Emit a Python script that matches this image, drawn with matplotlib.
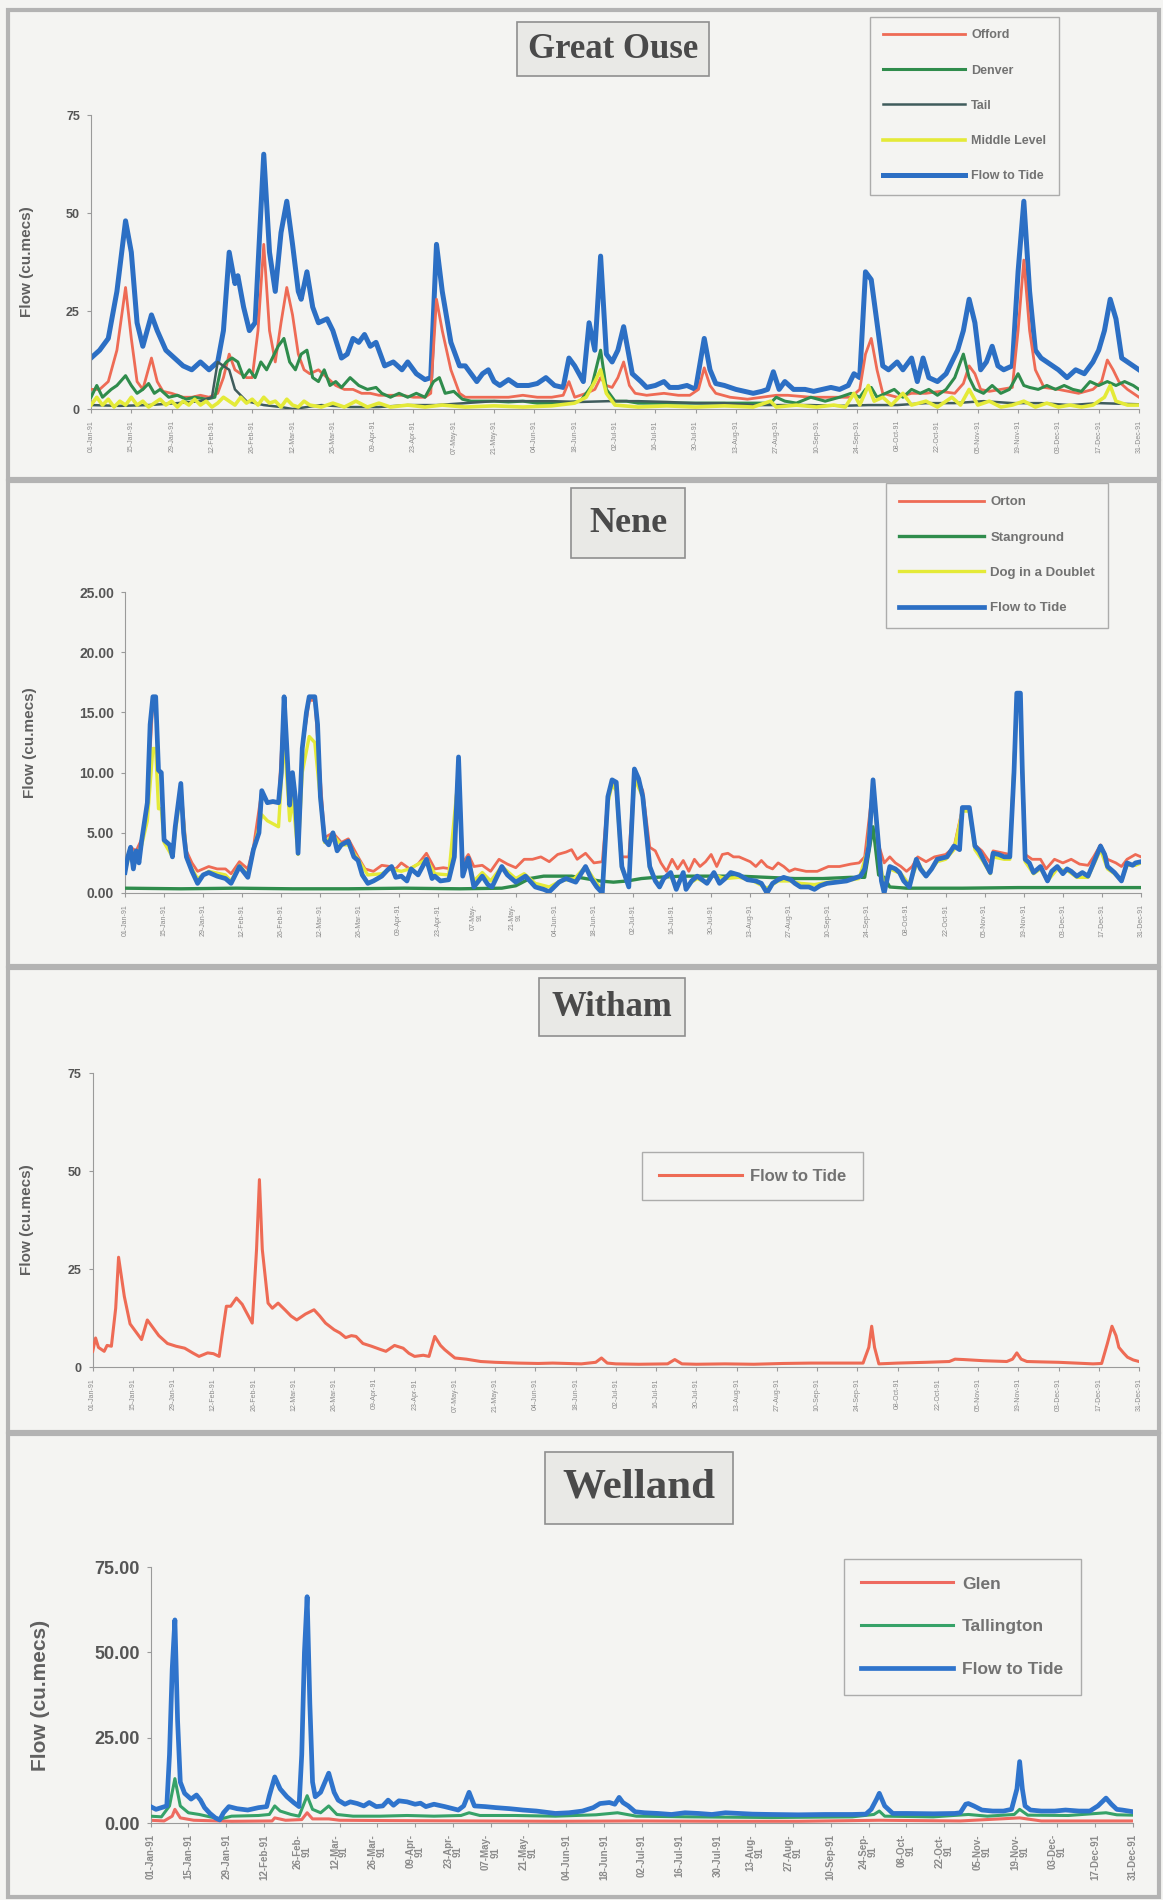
import matplotlib
matplotlib.use("Agg")
import matplotlib.pyplot as plt
from matplotlib.patches import Rectangle

plt.rcParams['font.family'] = ['Liberation Sans', 'DejaVu Sans']

# ---- tick dates (every 14 days through 1991) ----
tick_days = list(range(0, 365, 14))
tick_labels = ['01-Jan-91', '15-Jan-91', '29-Jan-91', '12-Feb-91', '26-Feb-91', '12-Mar-91',
               '26-Mar-91', '09-Apr-91', '23-Apr-91', '07-May-91', '21-May-91', '04-Jun-91',
               '18-Jun-91', '02-Jul-91', '16-Jul-91', '30-Jul-91', '13-Aug-91', '27-Aug-91',
               '10-Sep-91', '24-Sep-91', '08-Oct-91', '22-Oct-91', '05-Nov-91', '19-Nov-91',
               '03-Dec-91', '17-Dec-91', '31-Dec-91']
nene_labels = [t if t not in ('07-May-91', '21-May-91') else t[:7] + '\n91' for t in tick_labels]
welland_wrap = {'26-Feb-91', '12-Mar-91', '26-Mar-91', '09-Apr-91', '23-Apr-91', '07-May-91',
                '21-May-91', '13-Aug-91', '27-Aug-91', '24-Sep-91', '08-Oct-91', '22-Oct-91',
                '05-Nov-91', '19-Nov-91', '03-Dec-91'}
welland_labels = [t[:7] + '\n91' if t in welland_wrap else t for t in tick_labels]

# ---- Great Ouse (day of year, cumecs) ----
ouse_offord = [(0,5),(3,5),(6,7),(9,15),(12,31),(14,18),(16,7),(18,5),(21,13),(23,7),(25,4.5),(28,4),
    (32,3),(35,3),(38,3.5),(41,3),(44,4),(46,8),(48,14),(50,10),(52,9),(54,8),(56,8),(58,20),(60,42),
    (62,20),(64,12),(66,22),(68,31),(70,24),(72,14),(74,10),(76,9),(79,10),(82,8),(85,6),(88,5),(91,5),
    (94,4),(97,4),(100,3.5),(104,3.5),(108,3.5),(112,3),(116,3),(118,4),(120,28),(122,20),(125,10),
    (128,4),(130,3),(135,3),(140,3),(145,3),(150,3.5),(155,3),(160,3),(164,3.5),(166,7),(168,3),(172,4),
    (175,5),(177,8),(179,6),(181,5.5),(183,8),(185,12),(187,6),(189,4),(193,3.5),(199,4),(204,3.5),
    (208,3.5),(211,5),(213,10.5),(215,6),(217,4),(222,3),(228,2.5),(233,3),(238,3.5),(242,3.5),(250,3),
    (258,3),(264,3),(267,5),(269,14),(271,18),(273,10),(275,4),(280,3),(285,4),(290,4),(295,4.5),
    (300,4),(303,6.5),(305,11),(307,9),(309,5),(312,4.5),(316,5),(320,5.5),(322,20),(324,38),(326,20),
    (328,10),(331,5.5),(336,5),(343,4),(348,5),(351,7),(353,12.5),(355,10),(357,7),(360,5),(364,3)]
ouse_denver = [(0,3),(2,6),(4,3),(7,5),(9,6),(12,8.5),(14,6),(16,4),(18,5),(20,6.5),(22,4),(24,5),(27,3),
    (30,3.5),(33,2.5),(36,3),(40,2.5),(43,3),(45,10),(47,12),(49,13),(51,12),(53,8),(55,10),(57,8),
    (59,12),(61,10),(63,13),(65,16),(67,18),(69,12),(71,10),(73,14),(75,15),(77,8),(79,7),(81,10),
    (83,6),(85,7),(87,5.5),(90,8),(93,6),(96,5),(99,5.5),(101,4),(104,3),(107,4),(110,3),(113,4),
    (116,3),(119,7),(121,8),(123,4),(126,4.5),(129,2.5),(132,2),(136,2),(140,2),(145,1.8),(150,2),
    (155,1.5),(160,1.5),(165,1.5),(170,2),(174,6),(177,15),(179,5),(182,2),(186,2),(190,1.5),(200,1.5),
    (210,1.5),(220,1.5),(230,1.5),(236,1.5),(238,3),(241,2),(245,1.5),(250,3),(255,2),(260,3),(264,4),
    (267,3),(269,5),(271,5.5),(273,3),(276,4),(279,5),(282,3),(285,5),(288,4),(291,5),(294,3.5),(297,5),
    (300,8),(302,12),(303,14),(305,8),(307,5),(310,4),(313,6),(316,4),(319,5),(322,9),(324,6),(326,5.5),
    (329,5),(332,6),(335,5),(338,6),(341,5),(344,4.5),(347,7),(350,6),(353,7),(356,6),(359,7),(362,6),
    (364,5)]
ouse_tail = [(0,1),(10,0.8),(20,1),(30,1.5),(38,2),(42,3),(44,12),(46,11),(48,10),(50,5),(54,2),(60,1),
    (66,0.5),(70,0),(75,0.5),(80,1),(90,0.5),(100,0.5),(110,1),(120,1),(130,1.5),(140,2),(150,2),(160,2),
    (170,1.8),(180,2),(190,2),(200,1.8),(210,1.5),(220,1.5),(230,1),(240,1),(250,1),(260,0.8),(270,1),
    (280,1),(290,1.5),(300,1.5),(310,2),(320,1.5),(330,1.5),(340,1),(350,1.5),(364,1.2)]
ouse_middle = [(0,1),(2,3),(4,1),(6,2.5),(8,0.5),(10,2),(12,1),(14,3),(16,1),(18,2),(20,0.5),(22,1.5),
    (24,2.5),(26,1),(28,2),(30,0.5),(32,2),(34,1),(36,2.5),(38,1),(40,2),(42,0.5),(44,1.5),(46,3),(48,2),
    (50,1),(52,3),(54,1.5),(56,2.5),(58,1),(60,3),(62,1.5),(64,2),(66,0.5),(68,2.5),(70,1),(72,0.5),
    (74,2),(76,1),(80,0.5),(84,1.5),(88,0.5),(92,2),(96,0.5),(100,1.5),(104,0.5),(110,1),(116,0.5),
    (122,1),(130,0.5),(140,0.8),(150,0.5),(160,0.8),(168,1.5),(172,3),(175,7),(177,10),(179,4),(182,1),
    (190,0.5),(200,0.8),(210,0.5),(220,0.8),(230,0.5),(236,2),(238,0.5),(245,1),(252,0.5),(258,1),
    (262,0.5),(265,4),(267,1),(270,6),(272,2),(275,3),(278,1),(282,4),(285,1),(290,2),(294,0.5),(299,3),
    (302,1),(305,5),(308,1),(312,2),(316,0.5),(320,1),(324,2),(328,0.5),(332,1.5),(336,0.5),(340,1),
    (344,0.5),(348,1),(352,3),(354,6),(356,2),(360,1),(364,1)]
ouse_tide = [(0,13),(3,15),(6,18),(9,30),(12,48),(14,40),(16,22),(18,16),(21,24),(23,20),(26,15),(29,13),
    (32,11),(35,10),(38,12),(41,10),(44,12),(46,20),(48,40),(50,32),(51,34),(53,26),(55,20),(57,22),
    (60,65),(62,40),(64,30),(66,45),(68,53),(70,42),(72,30),(73,28),(75,35),(77,26),(79,22),(82,23),
    (84,20),(87,13),(89,14),(91,18),(93,17),(95,19),(97,16),(99,17),(102,11),(105,12),(108,10),(110,12),
    (113,9),(116,7.5),(118,8),(120,42),(122,30),(125,17),(128,11),(130,11),(134,7),(136,9),(138,10),
    (140,7),(142,6),(145,7.5),(148,6),(152,6),(155,6.5),(158,8),(161,6),(164,5.5),(166,13),(168,11),
    (171,7),(173,22),(175,15),(177,39),(179,14),(181,12),(183,15),(185,21),(188,9),(191,7),(193,5.5),
    (196,6),(199,7),(201,5.5),(204,5.5),(207,6),(210,5),(213,18),(215,10),(217,6.5),(220,6),(224,5),
    (227,4.5),(230,4),(233,4.5),(235,5),(237,9.5),(239,5),(241,7),(244,5),(248,5),(251,4.5),(254,5),
    (257,5.5),(260,5),(263,6),(265,9),(267,8),(269,35),(271,33),(273,22),(275,11),(277,10),(280,12),
    (282,10),(285,13),(287,7),(289,13),(291,8),(294,7),(297,9),(299,12),(301,15),(303,20),(305,28),
    (307,22),(309,10),(311,12),(313,16),(315,11),(317,10),(320,11),(322,35),(324,53),(326,30),(328,15),
    (330,13),(332,12),(334,11),(336,10),(339,8),(342,10),(345,9),(348,12),(350,15),(352,20),(354,28),
    (356,23),(358,13),(360,12),(362,11),(364,10)]

# ---- Nene ----
nene_orton = [(0,2),(2,3.8),(4,3.5),(6,4.5),(8,7.5),(10,16),(11,16),(12,10),(13,10),(14,4.6),(17,3.3),
    (18,5.5),(20,9),(22,3.5),(24,2.5),(26,1.8),(28,2),(30,2.2),(33,2),(36,2),(38,1.6),(41,2.6),(44,2),
    (46,3.8),(49,8.5),(51,7.5),(55,7.5),(57,16),(59,7.3),(60,10),(62,3.5),(63.5,12),(66,16),(68,16),
    (71.5,4.6),(74.5,5),(77.5,4.2),(80,4.5),(83.5,3),(86,2),(89,1.8),(92,2.3),(95,2.2),(97,2),(99,2.5),
    (102,2),(105,2.4),(108,3.3),(111,2),(114,2.1),(117,2),(119.5,11),(121,2.5),(123,3.2),(125,2.2),
    (128,2.3),(131,1.8),(134,2.8),(137,2.4),(140,2.1),(143,2.8),(146,2.8),(149,3),(152,2.6),(155,3.2),
    (158,3.4),(160,3.6),(162,2.8),(165,3.3),(168,2.5),(171,2.6),(173,8),(174.5,9.2),(176,9),(178,3),
    (180.5,3),(182.5,10),(185.5,8.5),(188,3.8),(190,3.5),(192,2.5),(194,1.8),(196,2.8),(198,2),(200,2.7),
    (202,1.8),(204,2.8),(206,2.2),(208,2.6),(210,3.2),(212,2.2),(214,3.2),(216,3.3),(218,3),(220,3),
    (222,2.8),(224,2.6),(226,2.2),(228,2.7),(230,2.2),(232,2),(234,2.5),(236,2.2),(238,1.8),(240,2),
    (244,1.8),(248,1.8),(252,2.2),(256,2.2),(260,2.4),(263,2.5),(265,3),(268,9),(270,4),(272,2.5),(274,3),
    (276,2.5),(278,2.2),(280,1.8),(282,2.2),(284,3),(287,2.6),(290,3),(294,3.2),(297,3.8),(300,7),
    (302.5,7),(304.5,4),(307,3.5),(310,2.5),(311,3.5),(315,3.3),(317,3.2),(319.5,16.3),(320.8,16.3),
    (322.5,3.2),(325,2.8),(328,2.8),(330,2),(333,2.8),(336,2.5),(339,2.8),(342,2.4),(345,2.3),(347,3),
    (349.5,4),(352,2.8),(355,2.5),(357,2.2),(359,2.8),(362,3.2),(364,3)]
nene_stanground = [(0,0.4),(20,0.35),(40,0.4),(60,0.35),(80,0.35),(100,0.4),(120,0.35),(135,0.4),
    (140,0.6),(145,1.2),(150,1.4),(160,1.4),(170,1.0),(175,0.9),(180,1.0),(185,1.2),(190,1.3),(200,1.4),
    (210,1.4),(220,1.4),(230,1.3),(240,1.2),(250,1.2),(260,1.3),(265,1.3),(268,5.5),(270,1.5),(272,1.3),
    (274,0.5),(280,0.4),(300,0.4),(320,0.45),(340,0.45),(364,0.45)]
nene_dog = [(0,1.8),(2,3.5),(4,3),(6,4),(8,6),(10,12),(11,12),(12,7),(13,7),(14,4.2),(17,3),(18,5),
    (20,8.5),(22,3),(24,2),(26,1.2),(30,1.8),(36,1.5),(38,1),(41,2.3),(44,1.5),(46,3.5),(49,6.5),(51,6),
    (55,5.5),(57,13),(59,6),(60,8),(62,3.2),(63.5,10),(66,13),(68,12.5),(71.5,4.2),(74.5,4.8),(77.5,4),
    (80,4),(83.5,2.8),(87,1.5),(92,1.6),(95,2),(99,1.8),(102,2),(108,2.8),(111,1.6),(116,1.5),(119.5,10),
    (121,1.6),(123,2.8),(125,1),(128,1.7),(131,1),(135,2.2),(140,1.2),(143,1.6),(147,0.8),(152,0.5),
    (156,1),(161,1.2),(165,2.2),(169,0.8),(171,0.3),(173,7.5),(174.5,9),(176,8.5),(178,2),(180.5,0.8),
    (182.5,9.5),(185.5,8),(188,2),(191,0.7),(195,1.6),(197.5,0.5),(200,1.5),(201,0.6),(205,1.2),(208,0.9),
    (211,1.5),(215,1.2),(220,1.3),(225,1.0),(230,0.4),(234,1.0),(238,1.0),(242,0.8),(247,0.7),(252,0.9),
    (258,1.0),(263,1.2),(266,3.5),(268,8.8),(270,3.5),(272,0.4),(274,2),(278,1.6),(281,0.7),(284,2.6),
    (287,1.4),(291,2.6),(294,2.8),(297,3.6),(300,6.8),(302.5,6.8),(304.5,3.6),(307.5,2.6),(310,1.6),
    (311,3),(315,2.8),(317,2.8),(319.5,16),(320.8,16),(322.5,2.6),(325.5,1.6),(328,2),(330.5,1),(334,2),
    (338,1.8),(341,1.3),(345,1.3),(349.5,3.6),(352,2),(354.5,1.6),(357,1),(359,2.3),(362,2.3),(364,2.5)]
nene_tide = [(0,1.7),(1,3),(2,3.8),(3,2),(4,3.5),(5,2.5),(6,4.4),(8,7.5),(9,14),(10,16.3),(11,16.3),
    (12,10.2),(13,10),(14,4.4),(16,4),(17,3),(18,5.5),(20,9.1),(21,5),(22,3),(24,1.8),(26,0.8),(28,1.5),
    (30,1.7),(33,1.4),(36,1.2),(38,0.8),(41,2.2),(44,1.3),(46,3.6),(48,5),(49,8.5),(51,7.5),(53,7.6),
    (55,7.5),(56,10),(57,16.3),(58,12),(59,7.3),(60,10),(61,8),(62,3.3),(63.5,12),(65,15),(66,16.3),
    (68,16.3),(69,14),(70,8),(71.5,4.4),(73,4),(74.5,5),(76,3.5),(77.5,4),(80,4.3),(82,3),(83.5,2.7),
    (85,1.5),(87,0.8),(89,1),(92,1.4),(94,1.9),(95.5,2.2),(97,1.3),(99,1.4),(101,1),(102.5,2),(105,1.5),
    (108,2.8),(110,1.2),(111,1.4),(113,1),(116,1.1),(118,3),(119.5,11.3),(121,1.4),(123,2.9),(125,0.5),
    (128,1.4),(130,0.7),(131.5,0.5),(135,2.2),(137,1.5),(140,0.9),(143.5,1.4),(147,0.5),(150,0.3),
    (152,0.1),(155.5,0.9),(158,1.2),(161.5,0.9),(165,2.2),(167,1.2),(169,0.5),(171,0),(173,8),(174.5,9.4),
    (176,9.2),(178,2.2),(180.5,0.5),(182.5,10.3),(184,9.5),(185.5,8),(188,2.2),(190,1),(191.5,0.5),
    (193,1.2),(195.5,1.7),(197.5,0.3),(200,1.7),(201,0.3),(203,1),(205,1.4),(208.5,0.8),(211,1.7),
    (213,0.8),(215,1.2),(217,1.7),(220,1.5),(223,1.1),(226,1),(228,0.8),(230,0),(232,0.8),(234,1.1),
    (236,1.3),(238.5,1.1),(240,0.8),(242,0.5),(245,0.5),(247,0.3),(249,0.6),(251.5,0.8),(255,0.9),
    (258.5,1),(261,1.2),(263.5,1.4),(265,2),(266.5,3.9),(268,9.4),(270,3.9),(271,1),(272,0),(274,2.2),
    (276,2),(277.5,1.7),(279,1),(281,0.5),(283.5,2.8),(285,2),(287,1.4),(289,2),(291,2.8),(294.5,3),
    (297,3.9),(299,3.6),(300,7.1),(302.5,7.1),(304.5,3.9),(306,3.5),(307.5,2.8),(310,1.7),(311,3.3),
    (313,3.2),(315,3),(317,3),(318.5,10),(319.5,16.6),(320.8,16.6),(321.5,10),(322.5,2.8),(324,2.5),
    (325.5,1.7),(328,2.2),(330.5,1),(332,1.8),(334,2.2),(336,1.6),(337.5,2),(339,1.8),(341,1.4),(343,1.7),
    (345,1.4),(347,2.5),(349.5,3.9),(351,3.2),(352,2.2),(354.5,1.7),(357,1),(359,2.5),(361,2.3),(362,2.5),
    (364,2.6)]

# ---- Witham ----
witham_tide = [(0,4),(1,7.4),(2,5),(4,4),(5,5.5),(6.5,5.3),(8,15),(9,28),(11,18),(13,11),(15,9),(17,7),
    (19,12),(21,10),(23,8),(26,6),(29,5.3),(32,4.8),(35,3.5),(37,2.7),(40,3.6),(42,3.4),(44,2.7),(45,8),
    (46.5,15.5),(48,15.5),(50,17.6),(52,16),(53,14.6),(55.5,11.2),(57,30),(58,47.8),(59,30),(61,16.3),
    (62.5,15),(64.5,16.3),(67,14.5),(69,13),(71,12),(74,13.5),(77,14.6),(79,13),(81,11.2),(84,9.5),
    (86,8.7),(88,7.5),(90,8),(91.6,7.8),(94,6),(97,5.3),(100,4.5),(102,4),(105,5.5),(108,4.8),(110,3.5),
    (112,2.7),(115,3),(117,2.7),(119,7.8),(121,5.5),(122.5,4.4),(124,3.5),(126,2.3),(130,2),(135,1.4),
    (140,1.2),(148,1),(155,0.9),(160,1),(170,0.8),(175,1.2),(177,2.3),(179,1),(182,0.8),(190,0.7),
    (200,0.8),(202.5,1.9),(205,0.8),(210,0.7),(220,0.8),(230,0.7),(240,0.9),(250,1),(260,1),(268,1),
    (270,5),(271,10.4),(272,5),(273.5,0.8),(280,1),(290,1.2),(298,1.4),(300,2),(303,1.9),(310,1.6),
    (318,1.4),(320,2),(321.5,3.6),(323,2),(325,1.4),(330,1.3),(336,1.2),(342,1),(348,0.8),(351,0.9),
    (353,6),(354.6,10.4),(356,8),(357,5),(358.6,3.6),(360,2.5),(362,1.8),(364,1.4)]

# ---- Welland ----
welland_glen = [(0,0.8),(5,0.6),(8,2),(9,4),(11,1.5),(16,0.8),(30,0.5),(45,0.6),(46,1.5),(50,0.8),
    (56,1),(58,3),(60,1.2),(66,1.2),(70,0.8),(90,0.7),(120,0.6),(150,0.5),(180,0.6),(210,0.5),(240,0.5),
    (270,0.8),(300,0.6),(322,1.5),(330,0.6),(364,0.6)]
welland_tallington = [(0,2),(4,1.8),(7,5),(9,13),(11,5),(14,3),(18,2.5),(22,1.8),(26,1.2),(30,2),
    (40,2.2),(44,2.5),(46,5),(48,3.5),(52,2.5),(55,2),(57,6),(58,8),(60,4),(63,3),(66,5),(69,2.5),(75,2),
    (85,2),(95,2.2),(105,2),(115,2.2),(118,3),(122,2.2),(135,2.2),(150,2),(165,2.4),(173,3),(180,2),
    (200,1.8),(230,1.6),(260,1.8),(268,2.5),(270,3.5),(272,2),(290,1.8),(303,2.5),(310,2),(320,2.5),
    (322,4),(325,2.3),(340,2.2),(354,3),(358,2.4),(364,2.3)]
welland_tide = [(0,4.8),(2,4),(4,4.5),(6,5),(7,20),(8,45),(9,59.5),(10,30),(11,12),(12.6,8.7),(15,7),
    (17,8.2),(18.5,6.7),(20,4.5),(22,2.8),(24,1.5),(25.6,0.9),(27,3),(29,4.8),(32,4.2),(36,3.8),(40,4.5),
    (43,4.8),(44,8),(46,13.5),(48,10),(50.5,7.7),(53,6),(55,4.8),(56,20),(57,50),(58,66.3),(59,35),
    (60,12),(61,7.7),(63,9),(66,14.6),(68,9),(69.5,6.7),(72,5.5),(74,6.2),(76.6,5.7),(79,5),(81,6),
    (83.6,4.8),(86,5),(88,6.7),(90,5.2),(92,6.5),(95,6.2),(98,5.5),(100,5.8),(102,4.8),(105,5.5),
    (109,4.8),(112,4.2),(114,3.8),(116,5),(118,9),(120,5),(124,4.8),(128,4.5),(133,4.2),(138,3.8),
    (143,3.5),(150,2.8),(155,3),(160,3.5),(164,4.5),(166.5,5.7),(170,6),(172,5.5),(173.6,7.5),(175,6),
    (177,5),(179.5,3.3),(183,3),(188,2.8),(193,2.5),(198,3),(203,2.8),(208,2.5),(213,3),(218,2.8),
    (223,2.6),(230,2.5),(240,2.4),(250,2.5),(260,2.5),(265,2.6),(267,4),(269,7),(270,8.7),(272,5),
    (275,2.8),(280,2.8),(290,2.7),(298,2.8),(300,3),(302,5.5),(303,5.7),(305,5),(308,3.8),(312,3.5),
    (316,3.5),(319,4),(321,10),(322,18),(323,10),(324,5),(326,3.8),(330,3.5),(335,3.5),(339,3.8),
    (344,3.5),(348,3.5),(351,5),(354,7.3),(356,5.5),(358,4),(360,3.8),(364,3.3)]

BG = '#f4f4f2'
RED, GREEN, TAIL, YELLOW, BLUE = '#ee6b55', '#2f8c4c', '#3f5c5c', '#e4ea38', '#2c6fc4'
W, H = 1163, 1900


def line(ax, pairs, **kw):
    xs = [p[0] for p in pairs]
    ys = [p[1] for p in pairs]
    return ax.plot(xs, ys, solid_joinstyle='round', **kw)[0]


def axes_px(left, right, y_top, y_bottom):
    return fig.add_axes([left / W, 1 - y_bottom / H, (right - left) / W, (y_bottom - y_top) / H])


def style(ax, ymax, yticks, fmt, tick_fs, labels, date_fs, ylab_fs, ylab_x, date_bold=False):
    ax.set_facecolor(BG)
    ax.set_xlim(0, 364)
    ax.set_ylim(0, ymax)
    for s in ('top', 'right'):
        ax.spines[s].set_visible(False)
    for s in ('left', 'bottom'):
        ax.spines[s].set_color('#9a9a9a')
        ax.spines[s].set_linewidth(0.8)
    ax.set_yticks(yticks)
    ax.set_yticklabels([fmt.format(v) for v in yticks], fontsize=tick_fs, fontweight='bold',
                       color='#555555')
    ax.set_xticks(tick_days)
    ax.set_xticklabels(labels, rotation=90, fontsize=date_fs, color='#8a8a8a',
                       fontweight='bold' if date_bold else 'normal', linespacing=0.9)
    ax.tick_params(axis='both', length=3, color='#9a9a9a', pad=5)
    ax.set_ylabel('Flow (cu.mecs)', fontsize=ylab_fs, fontweight='bold', color='#606060')
    ax.yaxis.set_label_coords(ylab_x, 0.5)


def title_box(text, cx, cy, size, pad):
    fig.text(cx / W, 1 - cy / H, text, ha='center', va='center', family='Liberation Serif',
             fontsize=size, fontweight='bold', color='#4a4a4a',
             bbox=dict(boxstyle='square,pad=%s' % pad, facecolor='#e9e9e6', edgecolor='#8f8f8f',
                       linewidth=1.2))


def legend(ax, handles, x, y, fs, hl, ls):
    lg = ax.legend(handles=handles, loc='upper left', bbox_to_anchor=(x / W, 1 - y / H),
                   bbox_transform=fig.transFigure, fontsize=fs, handlelength=hl, handletextpad=0.5,
                   labelspacing=ls, borderpad=1.0, frameon=True, fancybox=False, borderaxespad=0)
    lg.get_frame().set_edgecolor('#9a9a9a')
    lg.get_frame().set_facecolor(BG)
    lg.get_frame().set_linewidth(1.0)
    for t in lg.get_texts():
        t.set_color('#727272')
        t.set_fontweight('bold')
    return lg


fig = plt.figure(figsize=(W / 100, H / 100), dpi=100, facecolor=BG)

# panel frames
for y0, y1 in [(10, 479), (481, 966), (968, 1432), (1434, 1897)]:
    fig.patches.append(Rectangle((8 / W, 1 - y1 / H), (W - 12) / W, (y1 - y0) / H,
                                 transform=fig.transFigure, fill=False, edgecolor='#b3b3b3',
                                 linewidth=3))

# ---- Great Ouse ----
ax1 = axes_px(91, 1139, 115, 409)
h_tide = line(ax1, ouse_tide, color=BLUE, lw=3.6, zorder=2, label='Flow to Tide')
h_off = line(ax1, ouse_offord, color=RED, lw=2.0, zorder=3, label='Offord')
h_den = line(ax1, ouse_denver, color=GREEN, lw=2.2, zorder=4, label='Denver')
h_tail = line(ax1, ouse_tail, color=TAIL, lw=1.8, zorder=5, label='Tail')
h_mid = line(ax1, ouse_middle, color=YELLOW, lw=2.6, zorder=6, label='Middle Level')
style(ax1, 75, [0, 25, 50, 75], '{:d}', 9, tick_labels, 5, 11, -0.054)
legend(ax1, [h_off, h_den, h_tail, h_mid, h_tide], 870, 17, 9, 6.6, 1.85)
title_box('Great Ouse', 613, 49, 25, 0.3)

# ---- Nene ----
ax2 = axes_px(125, 1141, 592, 893)
h_or = line(ax2, nene_orton, color=RED, lw=2.0, zorder=2, label='Orton')
h_st = line(ax2, nene_stanground, color=GREEN, lw=2.4, zorder=3, label='Stanground')
h_dog = line(ax2, nene_dog, color=YELLOW, lw=2.4, zorder=4, label='Dog in a Doublet')
h_nt = line(ax2, nene_tide, color=BLUE, lw=3.4, zorder=5, label='Flow to Tide')
style(ax2, 25, [0, 5, 10, 15, 20, 25], '{:.2f}', 10, nene_labels, 5, 11, -0.087)
legend(ax2, [h_or, h_st, h_dog, h_nt], 886, 483, 9.5, 6.4, 1.75)
title_box('Nene', 628, 523, 26, 0.5)

# ---- Witham ----
ax3 = axes_px(92.7, 1139, 1073, 1367)
h_wt = line(ax3, witham_tide, color=RED, lw=2.2, zorder=3, label='Flow to Tide')
style(ax3, 75, [0, 25, 50, 75], '{:d}', 9, tick_labels, 5, 11, -0.056)
legend(ax3, [h_wt], 642, 1152, 12, 5.0, 1.0)
title_box('Witham', 612, 1007, 25, 0.35)

# ---- Welland ----
ax4 = axes_px(150.6, 1133, 1567, 1823)
h_gl = line(ax4, welland_glen, color='#ee6a60', lw=2.2, zorder=2, label='Glen')
h_ta = line(ax4, welland_tallington, color='#36a268', lw=2.2, zorder=3, label='Tallington')
h_wl = line(ax4, welland_tide, color='#2f74cc', lw=3.4, zorder=4, label='Flow to Tide')
style(ax4, 75, [0, 25, 50, 75], '{:.2f}', 13, welland_labels, 7, 15, -0.102, date_bold=True)
legend(ax4, [h_gl, h_ta, h_wl], 844, 1559, 12.5, 5.3, 1.6)
title_box('Welland', 639, 1488, 31, 0.4)

fig.savefig('out.png', dpi=100, facecolor=BG)
